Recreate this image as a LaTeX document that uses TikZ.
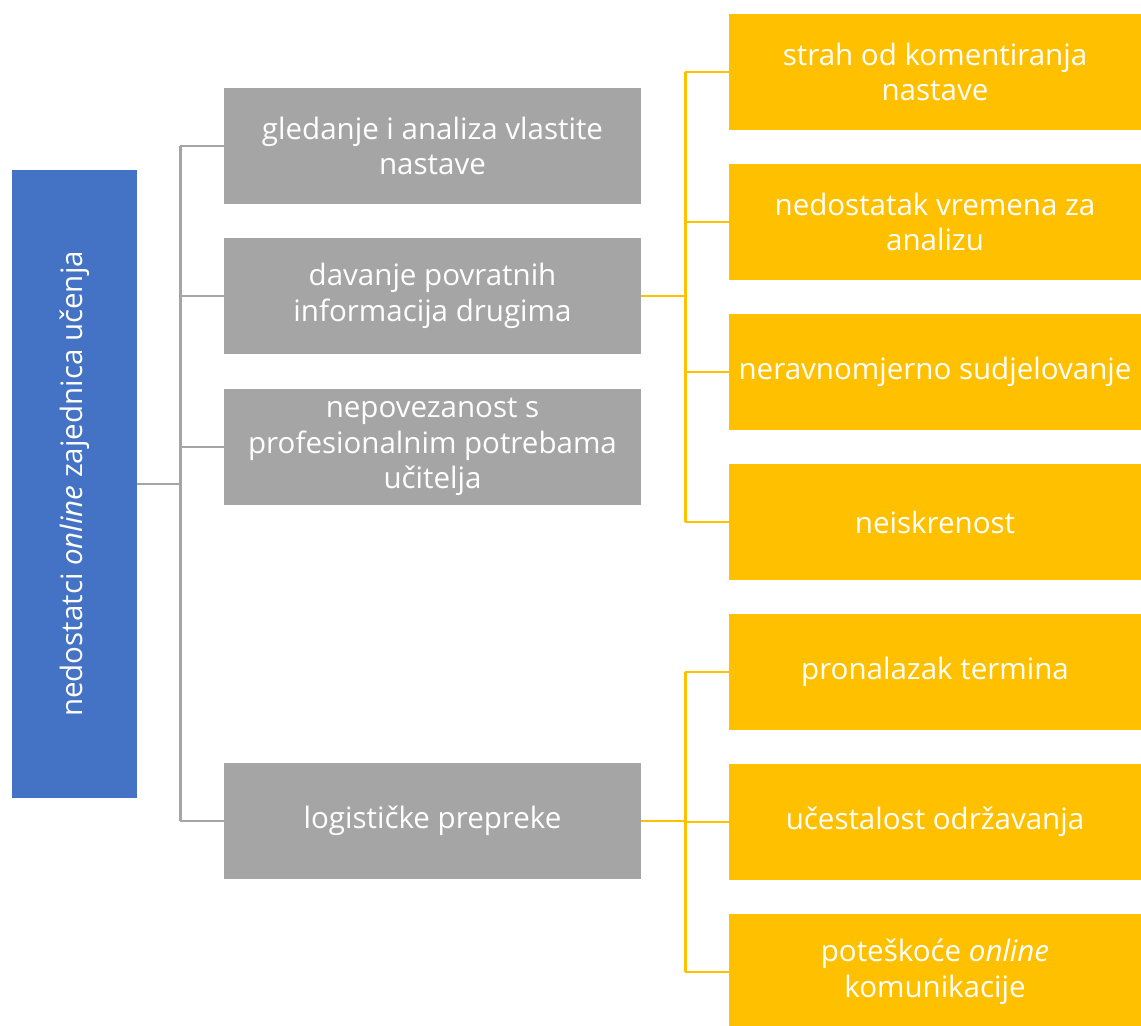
\documentclass[tikz,border=0pt]{standalone}
\usepackage{fontspec}
\setmainfont{Open Sans}
\usetikzlibrary{calc}

\definecolor{blueBox}{HTML}{4472C4}
\definecolor{grayBox}{HTML}{A5A5A5}
\definecolor{orangeBox}{HTML}{FFC000}

\tikzset{
  box/.style={inner sep=0pt, align=center, text=white,
    font=\fontsize{16.8}{20.3}\selectfont},
  graybox/.style={box, fill=grayBox, minimum width=8.34cm, minimum height=2.32cm},
  orangebox/.style={box, fill=orangeBox, minimum width=8.24cm, minimum height=2.32cm},
  grayline/.style={draw=grayBox, line width=1.4pt},
  orangeline/.style={draw=orangeBox, line width=1.4pt}
}

\begin{document}
\begin{tikzpicture}[x=0.02cm, y=-0.02cm]
\useasboundingbox (0,0) rectangle (1141,1026);
% left root box
\node[box, fill=blueBox, minimum width=2.5cm, minimum height=12.56cm] (root) at (74.5,484) {};
\node[box, rotate=90] at (root.center) {nedostatci \textit{online} zajednica učenja};
% middle column
\node[graybox] (g1) at (432.5,146) {gledanje i analiza vlastite\\nastave};
\node[graybox] (g2) at (432.5,296) {davanje povratnih\\informacija drugima};
\node[graybox] (g3) at (432.5,447) {nepovezanost s\\profesionalnim potrebama\\učitelja};
\node[graybox] (g4) at (432.5,821) {logističke prepreke};
% right column
\node[orangebox] (o1) at (935,72) {strah od komentiranja\\nastave};
\node[orangebox] (o2) at (935,222) {nedostatak vremena za\\analizu};
\node[orangebox] (o3) at (935,372) {neravnomjerno sudjelovanje};
\node[orangebox] (o4) at (935,522) {neiskrenost};
\node[orangebox] (o5) at (935,672) {pronalazak termina};
\node[orangebox] (o6) at (935,822) {učestalost održavanja};
\node[orangebox] (o7) at (935,972) {poteškoće \textit{online}\\komunikacije};
% gray bracket
\coordinate (gj) at ($(root.east)+(43,0)$);
\draw[grayline] (root.east) -- (gj);
\draw[grayline] (gj |- g1.west) -- (gj |- g4.west);
\foreach \n in {g1,g2,g3,g4} \draw[grayline] (gj |- \n.west) -- (\n.west);
% orange brackets
\coordinate (oj) at ($(g2.east)+(44,0)$);
\draw[orangeline] (g2.east) -- (oj);
\draw[orangeline] (oj |- o1.west) -- (oj |- o4.west);
\foreach \n in {o1,o2,o3,o4} \draw[orangeline] (oj |- \n.west) -- (\n.west);
\coordinate (ok) at ($(g4.east)+(44,0)$);
\draw[orangeline] (g4.east) -- (ok);
\draw[orangeline] (ok |- o5.west) -- (ok |- o7.west);
\foreach \n in {o5,o6,o7} \draw[orangeline] (ok |- \n.west) -- (\n.west);
\end{tikzpicture}
\end{document}
